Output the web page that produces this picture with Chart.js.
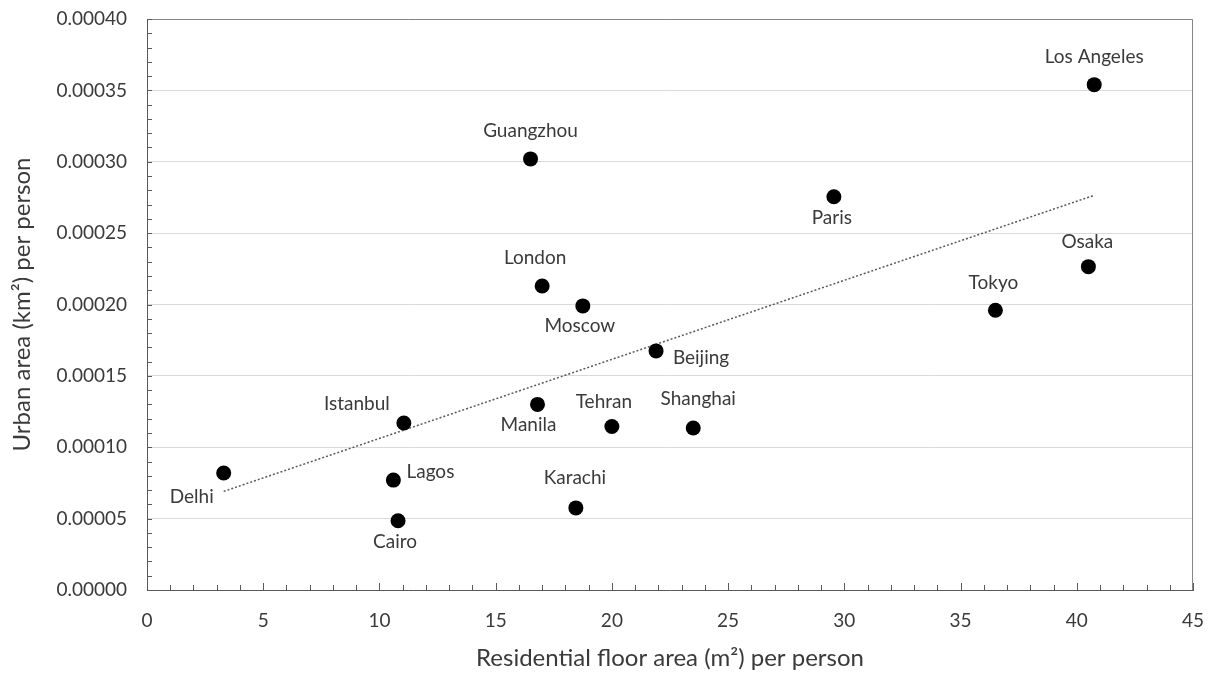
<!DOCTYPE html>
<html><head><meta charset="utf-8">
<script src="https://cdn.jsdelivr.net/npm/chart.js@4"></script>
<style>html,body{margin:0;padding:0;background:#fff}#wrap{width:1218px;height:673px;position:relative}</style>
</head><body><div id="wrap"><canvas id="c"></canvas></div>
<script>
const cities = ['Delhi','Lagos','Cairo','Istanbul','Manila','Karachi','Tehran','Shanghai','Beijing','Moscow','London','Guangzhou','Paris','Tokyo','Osaka','Los Angeles'];
const floorArea = [3.3,10.6,10.8,11.05,16.8,18.45,20.0,23.5,21.9,18.75,17.0,16.5,29.55,36.5,40.5,40.75];
const urbanArea = [0.000082,0.000077,0.0000485,0.000117,0.00013,0.0000575,0.0001145,0.0001135,0.0001675,0.000199,0.000213,0.000302,0.0002755,0.000196,0.0002265,0.000354];
const xTickValues = [0,5,10,15,20,25,30,35,40,45];
const yTickValues = [0,0.00005,0.0001,0.00015,0.0002,0.00025,0.0003,0.00035,0.0004];

// label placement (pixel offsets from the point)
const labelOffsets = {
  'Delhi':[-32,24],'Lagos':[37,-8],'Cairo':[-3,21],'Istanbul':[-47,-19],'Manila':[-9,20],
  'Karachi':[-1,-30],'Tehran':[-8,-25],'Shanghai':[5,-29],'Beijing':[45,7],'Moscow':[-3,20],
  'London':[-7,-28],'Guangzhou':[0,-28],'Paris':[-2,21],'Tokyo':[-2,-27],'Osaka':[-1,-25],'Los Angeles':[0,-28]
};

// linear trendline (least squares) from the data
const n = floorArea.length;
const mx = floorArea.reduce((a,b)=>a+b,0)/n;
const my = urbanArea.reduce((a,b)=>a+b,0)/n;
let sxy=0, sxx=0;
for (let i=0;i<n;i++){ sxy+=(floorArea[i]-mx)*(urbanArea[i]-my); sxx+=(floorArea[i]-mx)**2; }
const slope = sxy/sxx, icpt = my - slope*mx;
const xMin = Math.min(...floorArea), xMax = Math.max(...floorArea);
const trend = [{x:xMin,y:icpt+slope*xMin},{x:xMax,y:icpt+slope*xMax}];

const FONT = 'Lato';
const TXT = '#3a3a3a';

const decor = {
  id:'decor',
  beforeDatasetsDraw(chart){
    const {ctx, chartArea:a, scales:{x,y}} = chart;
    ctx.save();
    ctx.lineWidth = 1;
    ctx.strokeStyle = '#868686';
    ctx.beginPath();
    ctx.moveTo(a.left, a.top+0.5); ctx.lineTo(a.right-0.5, a.top+0.5); ctx.lineTo(a.right-0.5, a.bottom);
    ctx.stroke();
    ctx.strokeStyle = '#595959';
    ctx.beginPath();
    for (let v=x.min; v<=x.max+1e-9; v+=1){
      const px = Math.round(x.getPixelForValue(v))+0.5;
      const len = (Math.round(v)%5===0)?7:5;
      ctx.moveTo(px,a.bottom); ctx.lineTo(px,a.bottom-len);
    }
    const step = 0.00001;
    for (let i=0;i*step<=y.max+1e-12;i++){
      const py = Math.round(y.getPixelForValue(i*step))+0.5;
      ctx.moveTo(a.left,py); ctx.lineTo(a.left+5,py);
    }
    ctx.stroke();
    ctx.restore();
  },
  afterDatasetsDraw(chart){
    const {ctx} = chart;
    const meta = chart.getDatasetMeta(0);
    ctx.save();
    ctx.font = '19px ' + FONT;
    ctx.fillStyle = TXT;
    ctx.textAlign = 'center';
    ctx.textBaseline = 'middle';
    meta.data.forEach((pt,i)=>{
      const name = cities[i];
      const o = labelOffsets[name] || [0,-25];
      ctx.fillText(name, pt.x+o[0], pt.y+o[1]);
    });
    ctx.restore();
  }
};

new Chart(document.getElementById('c'), {
  type:'scatter',
  data:{
    datasets:[
      {
        label:'Cities',
        data: floorArea.map((v,i)=>({x:v,y:urbanArea[i]})),
        backgroundColor:'#000', borderWidth:0, pointRadius:7.5, pointHoverRadius:7.5
      },
      {
        type:'line', label:'Trend', data: trend,
        borderColor:'#595959', borderWidth:1.5, borderDash:[2,2], pointRadius:0, fill:false
      }
    ]
  },
  options:{
    responsive:true, maintainAspectRatio:false, animation:false,
    layout:{padding:{top:19,right:25,left:0,bottom:0}},
    plugins:{legend:{display:false}, tooltip:{enabled:false}},
    scales:{
      x:{
        type:'linear', min:0, max:45,
        afterBuildTicks: s => { s.ticks = xTickValues.map(v=>({value:v})); },
        afterFit: s => { s.height = 83; s.paddingLeft = 0; s.paddingRight = 0; },
        ticks:{ font:{family:FONT,size:19}, color:TXT, padding:19, maxRotation:0 },
        grid:{ color:'rgba(0,0,0,0)', drawTicks:false },
        border:{ color:'#595959', width:1 },
        title:{ display:true, text:'Residential floor area (m²) per person', font:{family:FONT,size:24}, color:TXT, padding:{top:0,bottom:0} }
      },
      y:{
        type:'linear', min:0, max:0.0004,
        afterBuildTicks: s => { s.ticks = yTickValues.map(v=>({value:v})); },
        afterFit: s => { s.width = 147; s.paddingTop = 0; s.paddingBottom = 0; },
        ticks:{ font:{family:FONT,size:19}, color:TXT, padding:20, callback: v => Number(v).toFixed(5) },
        grid:{ color:'#d9d9d9', drawTicks:false, lineWidth:1 },
        border:{ color:'#595959', width:1 },
        title:{ display:true, text:'Urban area (km²) per person', font:{family:FONT,size:24}, color:TXT, padding:{top:8,bottom:0} }
      }
    }
  },
  plugins:[decor]
});
</script></body></html>
